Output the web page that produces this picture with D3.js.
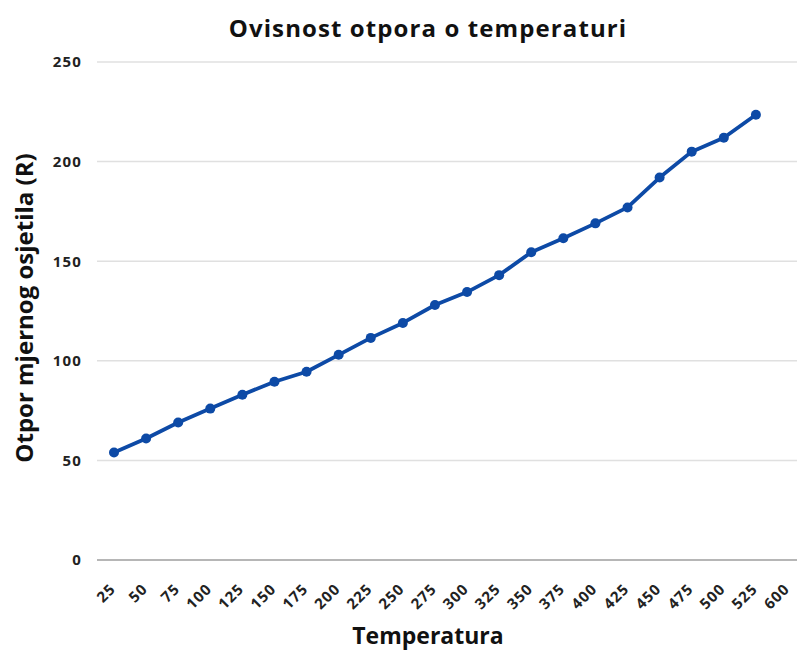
<!DOCTYPE html>
<html>
<head>
<meta charset="utf-8">
<script src="https://cdn.jsdelivr.net/npm/d3@7"></script>
<style>
  body { margin: 0; background: #fff; }
  svg { display: block; }
</style>
</head>
<body>
<div id="chart"></div>
<script>
// categories on the x axis (600 has no reading)
var temperatures = ["25", "50", "75", "100", "125", "150", "175", "200", "225", "250", "275",
  "300", "325", "350", "375", "400", "425", "450", "475", "500", "525", "600"];
// measured resistance for 25 .. 525
var resistance = [54, 61, 69, 76, 83, 89.5, 94.5, 103, 111.5, 119, 128,
  134.5, 143, 154.5, 161.5, 169, 177, 192, 205, 212, 223.5];
var yTicks = [0, 50, 100, 150, 200, 250];

var width = 797, height = 650;

var svg = d3.select("#chart").append("svg")
  .attr("width", width)
  .attr("height", height);

//Scales
var x = d3.scalePoint()
  .domain(temperatures)
  .range([114, 788]);

var y = d3.scaleLinear()
  .domain([0, 250])
  .range([560, 62]);

// Gridlines
svg.append("g")
  .selectAll("line")
  .data(yTicks.filter(function(d) { return d > 0; }))
  .enter().append("line")
  .attr("x1", 97)
  .attr("x2", width)
  .attr("y1", function(d) { return y(d); })
  .attr("y2", function(d) { return y(d); })
  .attr("stroke", "#e0e0e0")
  .attr("stroke-width", 1.5);

// baseline
svg.append("line")
  .attr("x1", 97).attr("x2", width)
  .attr("y1", y(0)).attr("y2", y(0))
  .attr("stroke", "#9e9e9e")
  .attr("stroke-width", 1.5);

// Y axis labels
var yAxis = d3.axisLeft(y).tickValues(yTicks).tickSize(0).tickPadding(0);
var gy = svg.append("g")
  .attr("transform", "translate(82,0)")
  .call(yAxis);
gy.select(".domain").remove();
gy.selectAll("text")
  .attr("font-family", "'Open Sans', sans-serif")
  .attr("font-weight", "bold")
  .attr("font-size", 15)
  .attr("letter-spacing", 1.2)
  .attr("fill", "#222");

// X axis labels, rotated
var xAxis = d3.axisBottom(x).tickSize(0).tickPadding(0);
var gx = svg.append("g")
  .attr("transform", "translate(0," + y(0) + ")")
  .call(xAxis);
gx.select(".domain").remove();
gx.selectAll("text")
  .attr("font-family", "'Open Sans', sans-serif")
  .attr("font-weight", "bold")
  .attr("font-size", 15)
  .attr("letter-spacing", 1)
  .attr("fill", "#222")
  .attr("text-anchor", "end")
  .attr("dy", 0)
  .attr("transform", "translate(2,30) rotate(-45)");

// Line
var line = d3.line()
  .x(function(d, i) { return x(temperatures[i]); })
  .y(function(d) { return y(d); });

svg.append("path")
  .datum(resistance)
  .attr("fill", "none")
  .attr("stroke", "#0d4aa6")
  .attr("stroke-width", 3.8)
  .attr("stroke-linejoin", "round")
  .attr("d", line);

svg.append("g")
  .selectAll("circle")
  .data(resistance)
  .enter().append("circle")
  .attr("cx", function(d, i) { return x(temperatures[i]); })
  .attr("cy", function(d) { return y(d); })
  .attr("r", 5)
  .attr("fill", "#0d4aa6");

// Titles
svg.append("text")
  .attr("x", 428)
  .attr("y", 37)
  .attr("text-anchor", "middle")
  .attr("font-family", "'Open Sans', sans-serif")
  .attr("font-weight", "bold")
  .attr("font-size", 24)
  .attr("letter-spacing", 1.1)
  .attr("fill", "#111")
  .text("Ovisnost otpora o temperaturi");

svg.append("text")
  .attr("x", 428)
  .attr("y", 644)
  .attr("text-anchor", "middle")
  .attr("font-family", "'Open Sans', sans-serif")
  .attr("font-weight", "bold")
  .attr("font-size", 23)
  .attr("fill", "#111")
  .text("Temperatura");

svg.append("text")
  .attr("transform", "translate(33,308) rotate(-90)")
  .attr("text-anchor", "middle")
  .attr("font-family", "'Open Sans', sans-serif")
  .attr("font-weight", "bold")
  .attr("font-size", 24)
  .attr("fill", "#111")
  .text("Otpor mjernog osjetila (R)");
</script>
</body>
</html>
